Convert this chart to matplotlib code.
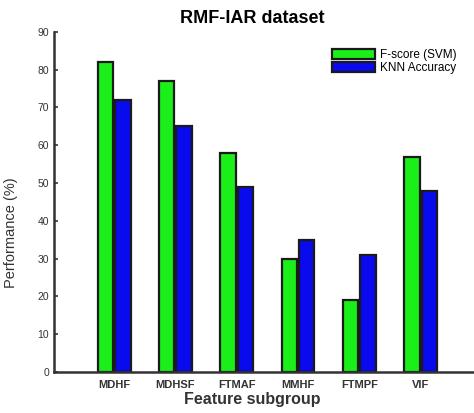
import matplotlib
matplotlib.use("Agg")
import matplotlib.pyplot as plt
import numpy as np

plt.rcParams['font.family'] = ['Liberation Sans', 'DejaVu Sans']

categories = ["MDHF", "MDHSF", "FTMAF", "MMHF", "FTMPF", "VIF"]
fscore_svm = [82, 77, 58, 30, 19, 57]
knn_accuracy = [72, 65, 49, 35, 31, 48]
yticks = [0, 10, 20, 30, 40, 50, 60, 70, 80, 90]

fig = plt.figure(figsize=(4.74, 4.13), dpi=100)
ax = fig.add_axes([0.114, 0.099, 0.886, 0.824])

x = np.arange(1, len(categories) + 1)
w = 0.25
g = 0.035
ax.bar(x - (w + g) / 2, fscore_svm, width=w, color="#1aef1a", edgecolor="#1a1a1a",
       linewidth=1.6, label="F-score (SVM)")
ax.bar(x + (w + g) / 2, knn_accuracy, width=w, color="#0a0aee", edgecolor="#1a1a1a",
       linewidth=1.6, label="KNN Accuracy")

ax.set_xlim(0.02, 6.87)
ax.set_ylim(0, 90)
ax.set_yticks(yticks)
ax.set_xticks(x)
ax.set_xticklabels(categories, fontsize=8, fontweight="bold", color="#333333")
ax.tick_params(axis="y", direction="in", length=3, labelsize=7.5, colors="#333333", width=1.2)
ax.tick_params(axis="x", length=0, pad=6)
for s in ["top", "right"]:
    ax.spines[s].set_visible(False)
for s in ["left", "bottom"]:
    ax.spines[s].set_linewidth(1.8)
    ax.spines[s].set_color("#333333")

ax.set_title("RMF-IAR dataset", fontsize=13, fontweight="bold", pad=6, x=0.471)
ax.set_xlabel("Feature subgroup", fontsize=11.5, fontweight="bold", color="#333333",
              labelpad=3)
ax.xaxis.set_label_coords(0.471, -0.058)
ax.set_ylabel("Performance (%)", fontsize=10.5, color="#333333")
ax.yaxis.set_label_coords(-0.085, 0.41)

ax.legend(loc="upper right", bbox_to_anchor=(0.985, 0.98), frameon=False, fontsize=8.5,
          handlelength=3.6, handleheight=0.95, handletextpad=0.5, labelspacing=0.05)

fig.savefig("out.png", dpi=100)
